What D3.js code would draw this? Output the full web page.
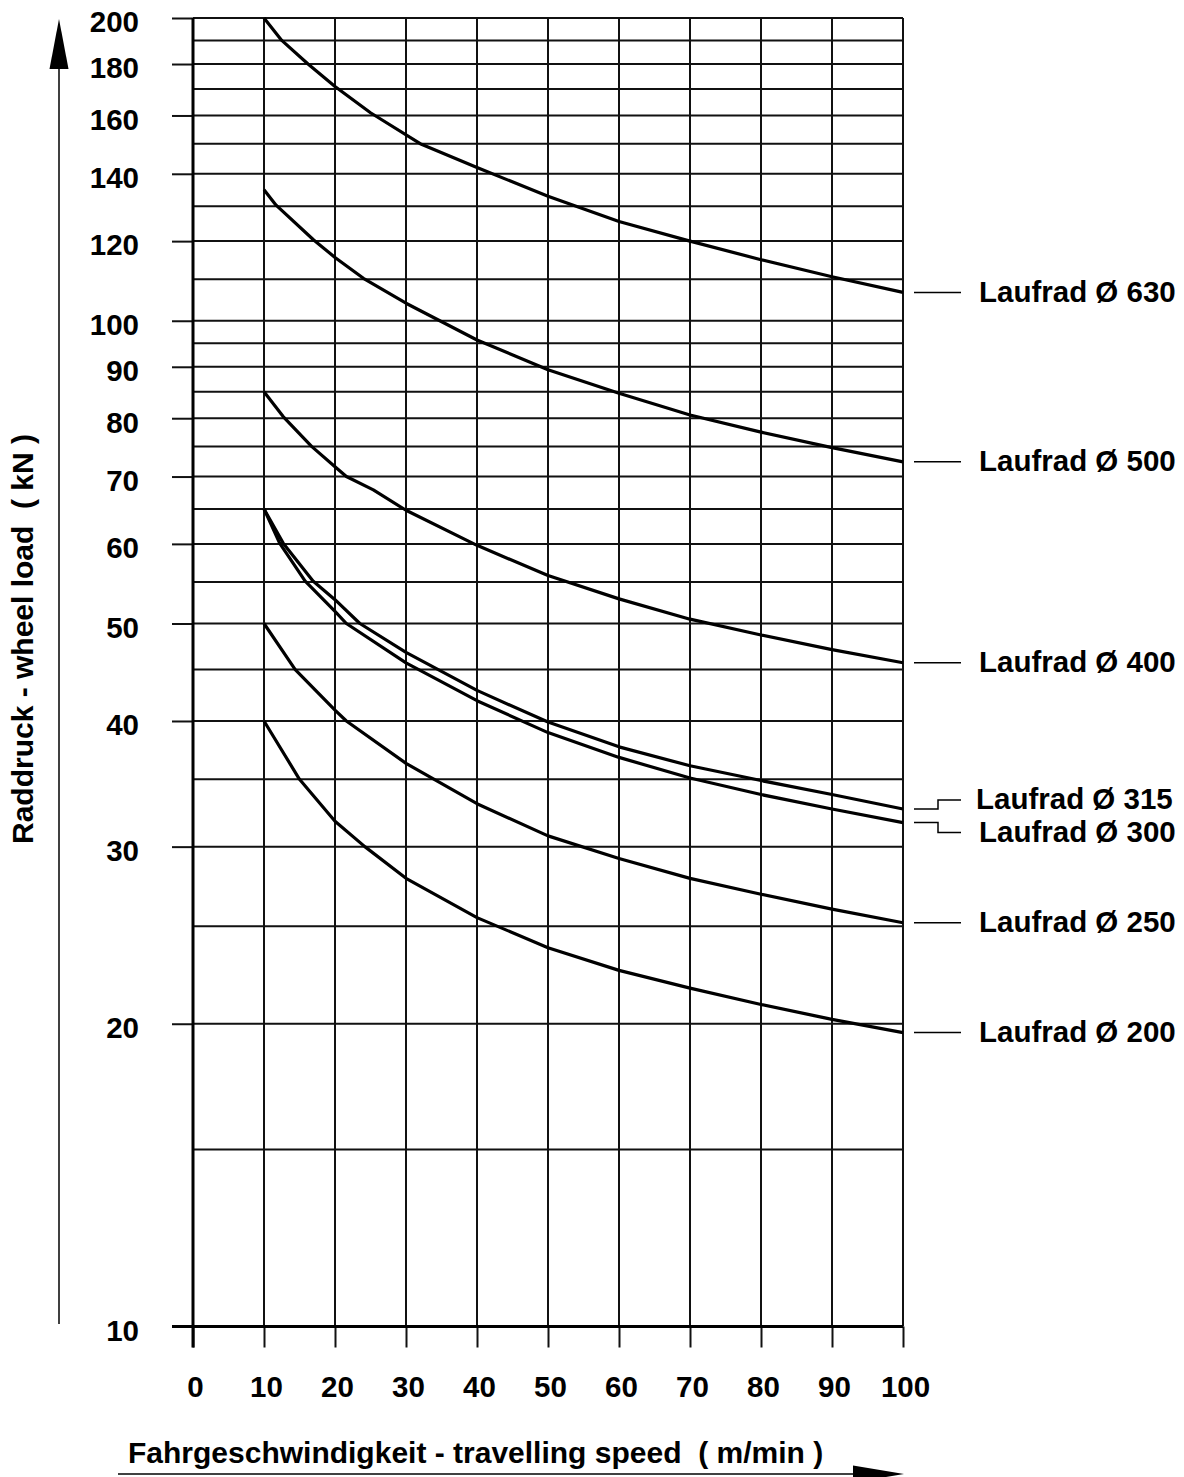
<!doctype html>
<html lang="de">

<head>
    <meta charset="utf-8" />
    <title>Raddruck - wheel load</title>
    <script src="https://d3js.org/d3.v7.min.js"></script>
    <style>
        body { margin: 0; background: #fff; }
        svg text { font-family: "Liberation Sans", Arial, sans-serif; font-weight: bold; fill: #000; }
    </style>
</head>

<body>
    <div id="my_dataviz"></div>
    <script>
        // axis ticks
        const xTicks = [0, 10, 20, 30, 40, 50, 60, 70, 80, 90, 100];
        const yLabelTicks = [10, 20, 30, 40, 50, 60, 70, 80, 90, 100, 120, 140, 160, 180, 200];
        const yGridLines = [10, 15, 20, 25, 30, 35, 40, 45, 50, 55, 60, 65, 70, 75, 80, 85, 90, 95,
            100, 110, 120, 130, 140, 150, 160, 170, 180, 190, 200];

        // curves, speed (m/min) vs wheel load (kN)
        const seriesNames = ["Laufrad Ø 630", "Laufrad Ø 500", "Laufrad Ø 400", "Laufrad Ø 315",
            "Laufrad Ø 300", "Laufrad Ø 250", "Laufrad Ø 200"];

        const speed630 = [10, 12.5, 16.2, 20, 25, 32, 40, 50, 60, 70, 80, 90, 100];
        const load630 = [200, 190, 180, 171, 161, 150, 142, 133, 125.5, 120, 115, 110.6, 106.7];

        const speed500 = [10, 11.7, 17, 20, 24, 30, 40, 50, 60, 70, 80, 90, 100];
        const load500 = [135, 130.3, 120.3, 115.6, 110.2, 104.1, 95.7, 89.4, 84.7, 80.6, 77.5, 74.8, 72.4];

        const speed400 = [10, 12.7, 16.7, 20, 21.6, 25.4, 30, 40, 50, 60, 70, 80, 90, 100];
        const load400 = [85, 80.3, 75, 71.6, 70, 67.9, 64.8, 59.8, 55.8, 52.9, 50.5, 48.7, 47.1, 45.7];

        const speed315 = [10, 12.7, 16.9, 20, 23.5, 30, 40, 50, 60, 70, 80, 90, 100];
        const load315 = [65, 60.1, 55.1, 52.8, 50, 46.8, 42.9, 39.9, 37.7, 36.1, 34.9, 33.8, 32.7];

        const speed300 = [10, 12.2, 15.8, 20, 21.6, 30, 40, 50, 60, 70, 80, 90, 100];
        const load300 = [65, 60.1, 55.1, 51.4, 50, 45.7, 41.9, 38.95, 36.8, 35.1, 33.8, 32.7, 31.7];

        const speed250 = [10, 14.4, 20, 21.6, 30, 40, 50, 60, 70, 80, 90, 100];
        const load250 = [50, 45, 41, 40, 36.3, 33.1, 30.75, 29.2, 27.9, 26.9, 26.0, 25.2];

        const speed200 = [10, 15, 20, 24.2, 30, 40, 50, 60, 70, 80, 90, 100];
        const load200 = [40, 35, 31.8, 30, 27.9, 25.5, 23.8, 22.6, 21.7, 20.9, 20.2, 19.6];

        const speeds = [speed630, speed500, speed400, speed315, speed300, speed250, speed200];
        const loads = [load630, load500, load400, load315, load300, load250, load200];

        let models = seriesNames.map((name, i) => ({
            name: name,
            points: speeds[i].map((s, j) => ({ speed: s, load: loads[i][j] }))
        }));

        // leader bends for the two close labels (315 / 300)
        const labelBend = [0, 0, 0, -9, 10, 0, 0];

        var width = 1184,
            height = 1477,
            plotLeft = 193, plotRight = 903,
            plotTop = 18, plotBottom = 1326.5,
            fontSize = 29.5;

        var svg = d3.select("#my_dataviz")
            .append("svg")
            .attr("width", width)
            .attr("height", height);

        svg.append("rect").attr("width", width).attr("height", height).attr("fill", "#fff");

        var xScale = d3.scaleLinear().domain([0, 100]).range([plotLeft, plotRight]);
        var yScale = d3.scaleLog().domain([10, 200]).range([plotBottom, plotTop]);

        // grid
        svg.append("g").selectAll("line")
            .data(yGridLines)
            .enter().append("line")
            .attr("x1", plotLeft).attr("x2", plotRight)
            .attr("y1", d => yScale(d)).attr("y2", d => yScale(d))
            .attr("stroke", "#111").attr("stroke-width", 2);

        svg.append("g").selectAll("line")
            .data(xTicks)
            .enter().append("line")
            .attr("x1", d => xScale(d)).attr("x2", d => xScale(d))
            .attr("y1", plotTop).attr("y2", plotBottom)
            .attr("stroke", "#111").attr("stroke-width", 2);

        // Y axis
        var yAxis = d3.axisLeft(yScale)
            .tickValues(yLabelTicks)
            .tickFormat(d3.format("d"))
            .tickSize(21)
            .tickPadding(33);

        var gy = svg.append("g")
            .attr("transform", `translate(${plotLeft},0)`)
            .call(yAxis);
        gy.select(".domain").remove();
        gy.selectAll(".tick line").attr("stroke", "#111").attr("stroke-width", 2);
        gy.selectAll(".tick text")
            .attr("dy", "0.47em")
            .style("font-size", fontSize + "px");

        // X axis
        var xAxis = d3.axisBottom(xScale)
            .tickValues(xTicks)
            .tickSize(21)
            .tickPadding(29);

        var gx = svg.append("g")
            .attr("transform", `translate(0,${plotBottom})`)
            .call(xAxis);
        gx.select(".domain").remove();
        gx.selectAll(".tick line").attr("stroke", "#111").attr("stroke-width", 2);
        gx.selectAll(".tick text")
            .attr("dx", 2)
            .style("font-size", fontSize + "px");

        // heavy axis lines
        svg.append("line")
            .attr("x1", plotLeft).attr("x2", plotLeft)
            .attr("y1", plotTop).attr("y2", plotBottom + 21)
            .attr("stroke", "#000").attr("stroke-width", 3);
        svg.append("line")
            .attr("x1", plotLeft - 21).attr("x2", plotRight)
            .attr("y1", plotBottom).attr("y2", plotBottom)
            .attr("stroke", "#000").attr("stroke-width", 3);

        // curves
        var line = d3.line()
            .x(d => xScale(d.speed))
            .y(d => yScale(d.load));

        svg.append("g").selectAll("path")
            .data(models)
            .enter().append("path")
            .attr("d", d => line(d.points))
            .attr("fill", "none")
            .attr("stroke", "#000")
            .attr("stroke-width", 3.2)
            .attr("stroke-linejoin", "round");

        // labels with leader lines
        var lab = svg.append("g").selectAll("g")
            .data(models)
            .enter().append("g");

        lab.append("path")
            .attr("d", (d, i) => {
                let y0 = yScale(d.points[d.points.length - 1].load);
                let y1 = y0 + labelBend[i];
                if (labelBend[i] === 0) return `M914,${y0}H961`;
                return `M914,${y0}H938V${y1}H961`;
            })
            .attr("fill", "none")
            .attr("stroke", "#000")
            .attr("stroke-width", 1.5);

        lab.append("text")
            .attr("x", (d, i) => i === 3 ? 976 : 979)
            .attr("y", (d, i) => yScale(d.points[d.points.length - 1].load) + labelBend[i] + 9.5)
            .style("font-size", fontSize + "px")
            .text(d => d.name);

        // Y title with arrow
        svg.append("text")
            .attr("transform", "translate(33,639) rotate(-90)")
            .attr("text-anchor", "middle")
            .style("font-size", "30px")
            .style("white-space", "pre")
            .text("Raddruck - wheel load  ( kN )");

        svg.append("line")
            .attr("x1", 59).attr("x2", 59)
            .attr("y1", 1324).attr("y2", 66)
            .attr("stroke", "#000").attr("stroke-width", 1.5);
        svg.append("path")
            .attr("d", "M59,19L49.5,69L68.5,69Z")
            .attr("fill", "#000");

        // X title with arrow
        svg.append("text")
            .attr("x", 128)
            .attr("y", 1462.5)
            .style("font-size", "30px")
            .style("white-space", "pre")
            .text("Fahrgeschwindigkeit - travelling speed  ( m/min )");

        svg.append("line")
            .attr("x1", 118).attr("x2", 856)
            .attr("y1", 1474).attr("y2", 1474)
            .attr("stroke", "#000").attr("stroke-width", 1.5);
        svg.append("path")
            .attr("d", "M904,1474L853,1465.5L853,1482.5Z")
            .attr("fill", "#000");
    </script>
</body>

</html>
